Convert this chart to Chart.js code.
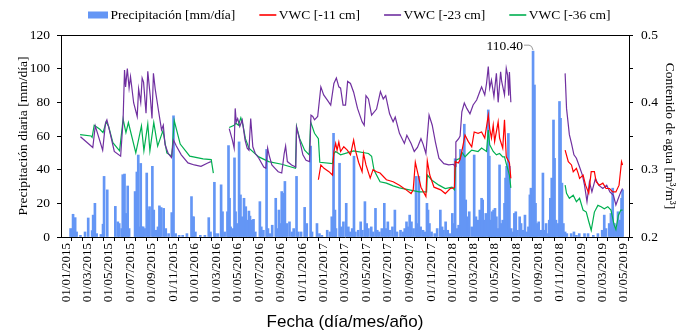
<!DOCTYPE html>
<html>
<head>
<meta charset="utf-8">
<script src="https://cdn.jsdelivr.net/npm/chart.js@4.4.1/dist/chart.umd.min.js"></script>
<style>
  html, body { margin: 0; padding: 0; background: #fff; }
  #caja { width: 686px; height: 335px; position: relative; }
</style>
</head>
<body>
<div id="caja"><canvas id="grafico"></canvas></div>
<script>
// etiquetas del eje X (cada 2 meses)
const etiquetasFecha = [
  '01/01/2015', '01/03/2015', '01/05/2015', '01/07/2015', '01/09/2015', '01/11/2015',
  '01/01/2016', '01/03/2016', '01/05/2016', '01/07/2016', '01/09/2016', '01/11/2016',
  '01/01/2017', '01/03/2017', '01/05/2017', '01/07/2017', '01/09/2017', '01/11/2017',
  '01/01/2018', '01/03/2018', '01/05/2018', '01/07/2018', '01/09/2018', '01/11/2018',
  '01/01/2019', '01/03/2019', '01/05/2019'
];

// precipitacion diaria: dias desde 01/01/2015 y mm/dia
const diasLluvia = [
  12, 16, 19, 25, 29, 40, 53, 62, 73, 76, 81, 86, 98, 104, 107, 116, 139, 146, 150, 157, 160, 165, 170, 174, 178,
  195, 200, 204, 208, 211, 215, 218, 222, 228, 233, 236, 244, 248, 255, 260, 264, 269, 276, 282, 290, 299, 304,
  310, 320, 330, 342, 355, 358, 361, 366, 380, 393, 404, 409,
  420, 423, 430, 439, 443, 449, 457, 460, 463, 466, 472, 477, 480, 485, 490, 494, 499, 504, 509, 513, 518, 521,
  526, 531, 536, 549, 553, 559, 568, 572, 578, 584, 594, 599, 603, 607, 611, 615, 620, 625, 633, 640, 645, 653,
  658, 666, 676, 682, 693, 697, 711, 718, 725,
  740, 748, 753, 758, 762, 765, 775, 780, 786, 794, 800, 805, 811, 816, 820, 828, 835, 840, 847, 852, 857, 865,
  870, 877, 882, 888, 895, 902, 906, 912, 917, 925, 932, 938, 948, 955, 960, 965, 970, 974, 979, 985, 992, 996,
  1000, 1005, 1012, 1017, 1023, 1026, 1030, 1036, 1045, 1052, 1061, 1066, 1070, 1076, 1082, 1088, 1095,
  1099, 1103, 1108, 1113, 1118, 1123, 1129, 1133, 1138, 1143, 1150, 1157, 1162, 1168, 1173, 1178, 1181, 1186,
  1190, 1197, 1200, 1204, 1208, 1212, 1216, 1220, 1225, 1229, 1233, 1238, 1243, 1246, 1249, 1254, 1257, 1262,
  1266, 1271, 1275, 1280, 1286, 1290, 1296, 1301, 1306, 1311, 1315, 1318, 1324, 1328, 1331, 1335, 1340, 1346,
  1352, 1356, 1361, 1366, 1370, 1373, 1377, 1382, 1385, 1389, 1395, 1399, 1402, 1406, 1410, 1415, 1420, 1432,
  1440, 1447, 1455,
  1470, 1480, 1495, 1508, 1520, 1526, 1531, 1540, 1545, 1550, 1555, 1560, 1565, 1570, 1575, 1578
];
const lluviaMm = [
  5, 4.8, 13.5, 11.5, 3, 1, 3, 11.3, 3.8, 13, 20, 2, 1.5, 7.6, 36, 28, 18.2, 9, 8, 5, 37, 37.4, 14, 30.3, 5,
  27, 38.6, 48.7, 6, 43.7, 6, 6, 5, 38, 16, 18, 42, 16, 4, 6, 18.5, 17.5, 17, 5, 2, 14.5, 72,
  2, 1, 1, 2, 24, 12, 12, 3, 1, 1, 11.5, 3,
  32.5, 2, 2, 31, 15, 3, 15, 54.3, 23, 6, 5, 47, 15, 8, 56.5, 25, 12, 23, 18, 10, 15.4, 12.4,
  10, 10.5, 3, 21, 6, 4, 52, 5, 2, 7, 23, 5, 16, 8, 27, 26, 33, 8, 9, 3, 5, 36,
  3, 3, 17.6, 8, 54, 3, 8, 2, 1,
  4, 3, 12, 61.6, 16, 5, 43.8, 6, 9, 20, 6, 3, 5, 48, 3, 4, 9, 4, 21, 8, 5, 6,
  3, 17, 4, 3, 5, 20, 5, 9, 4, 6, 16, 3, 4, 3, 5, 9, 6, 13, 9, 5, 36, 8,
  36, 6, 4, 3, 20, 16, 8, 3, 2, 5, 16, 6, 4, 9, 4, 2, 14,
  8, 46.5, 5, 7, 52, 50, 67, 22, 12, 15, 6, 48.7, 12, 10, 16, 23, 22, 10,
  14, 75.5, 48, 10, 15, 16, 17, 12, 5, 42.8, 8, 10, 20, 35, 42, 61.5, 42, 5,
  3, 14, 15, 4, 12, 8, 4, 13, 3, 6, 25, 29, 110.4, 90.3, 20, 8, 9, 4,
  38, 4, 8, 2, 10, 23, 35, 69.5, 46.7, 10, 8, 80.5, 70.5, 32, 8, 3, 2, 2,
  3, 1, 2,
  2, 2, 1, 2, 4, 13, 5, 8, 14, 29, 8, 5, 15, 10, 23, 28
];

// VWC -11 cm (null = corte de la serie)
const diasVwc11 = [
  715, 722, 731, 745, 755, 759, 764, 768, 773, 778, 787, 797, 806, 815, 820, 829, 839, 843, 850, 862, 870, 880,
  890, 908, 927, 945, 964, 978, 984, 990, 996, 1006, 1020, 1024, 1031, 1043, 1062, 1075, 1089, 1099, 1101, 1103,
  1112, 1117, 1122, 1131, 1140, 1150, 1157, 1168, 1178, 1187, 1197, 1201, 1206, 1211, 1215, 1225, 1229, 1238,
  1243, 1248, 1257, 1261, 1300,
  1415, 1424, 1433, 1438, 1447, 1452, 1456, 1466, 1473, 1482, 1489, 1498, 1503, 1512, 1522, 1531, 1541, 1550,
  1559, 1568, 1575, 1578
];
const vwc11 = [
  0.285, 0.307, 0.302, 0.297, 0.292, 0.327, 0.339, 0.329, 0.341, 0.327, 0.334, 0.329, 0.322, 0.344, 0.329, 0.311,
  0.297, 0.324, 0.307, 0.2875, 0.300, 0.297, 0.295, 0.285, 0.282, 0.277, 0.270, 0.2645, 0.270, 0.311, 0.297, 0.274,
  0.260, 0.313, 0.292, 0.274, 0.270, 0.2645, 0.272, 0.273, 0.274, 0.312, 0.310, 0.315, 0.327, 0.3515, 0.342,
  0.334, 0.356, 0.354, 0.356, 0.347, 0.381, 0.361, 0.347, 0.366, 0.342, 0.371, 0.347, 0.332, 0.374, 0.319, 0.310,
  0.287, null,
  0.329, 0.312, 0.307, 0.297, 0.302, 0.2945, 0.287, 0.292, 0.277, 0.265, 0.297, 0.297, 0.282, 0.277, 0.280,
  0.272, 0.272, 0.267, 0.267, 0.277, 0.312, 0.307
];

// VWC -23 cm
const diasVwc23 = [
  40, 75, 82, 103, 111, 115, 122, 136, 154, 161, 165, 168, 173, 178, 182, 191, 201, 205, 211, 215, 219, 226, 231,
  238, 243, 247, 252, 261, 270, 275, 280, 289, 298, 304, 312, 326, 345, 363, 382, 401, 410, 430,
  462, 471, 476, 479, 482, 486, 492, 499, 507, 513, 518, 523, 529, 536, 546, 560, 566, 571, 575, 583, 592, 601,
  611, 618, 622, 627, 639, 651, 653, 662, 671, 680, 690, 694, 699, 704, 713, 722, 730, 741, 750, 759, 766, 773,
  778, 785, 792, 798, 806, 815, 826, 839, 845, 850, 857, 866, 880, 891, 899, 906, 917, 927, 933, 945, 959, 966,
  978, 987, 996, 1006, 1012, 1020, 1029, 1038, 1047, 1057, 1071, 1085, 1098, 1103, 1105, 1113, 1117, 1122, 1129,
  1136, 1145, 1154, 1164, 1173, 1178, 1187, 1192, 1197, 1201, 1206, 1213, 1220, 1225, 1232, 1235, 1243, 1248,
  1252, 1255, 1257, 1261, 1300,
  1415, 1419, 1427, 1433, 1440, 1447, 1454, 1464, 1470, 1477, 1484, 1491, 1501, 1510, 1522, 1533, 1542, 1552,
  1559, 1566, 1573, 1578
];
const vwc23 = [
  0.349, 0.333, 0.365, 0.329, 0.369, 0.374, 0.359, 0.327, 0.320, 0.374, 0.448, 0.423, 0.450, 0.421, 0.438, 0.399,
  0.379, 0.420, 0.400, 0.436, 0.430, 0.384, 0.446, 0.409, 0.376, 0.443, 0.420, 0.389, 0.359, 0.366, 0.337, 0.324,
  0.318, 0.344, 0.335, 0.322, 0.310, 0.307, 0.305, 0.310, 0.312, null,
  0.361, 0.344, 0.332, 0.391, 0.371, 0.376, 0.364, 0.374, 0.344, 0.332, 0.329, 0.376, 0.334, 0.324, 0.317, 0.304,
  0.302, 0.332, 0.322, 0.307, 0.302, 0.297, 0.295, 0.324, 0.335, 0.312, 0.307, 0.304, 0.363, 0.344, 0.322, 0.314,
  0.312, 0.381, 0.379, 0.374, 0.379, 0.423, 0.411, 0.403, 0.396, 0.428, 0.436, 0.423, 0.421, 0.396, 0.396, 0.431,
  0.428, 0.415, 0.391, 0.371, 0.366, 0.410, 0.405, 0.381, 0.390, 0.416, 0.405, 0.410, 0.383, 0.371, 0.378, 0.354,
  0.339, 0.351, 0.339, 0.327, 0.333, 0.346, 0.338, 0.324, 0.381, 0.366, 0.341, 0.317, 0.309, 0.307, 0.308, 0.305,
  0.341, 0.346, 0.350, 0.386, 0.399, 0.391, 0.383, 0.396, 0.4035, 0.416, 0.423, 0.411, 0.428, 0.453, 0.421,
  0.433, 0.4085, 0.443, 0.400, 0.4455, 0.431, 0.411, 0.4505, 0.440, 0.410, 0.445, 0.400, null,
  0.443, 0.391, 0.352, 0.339, 0.322, 0.317, 0.307, 0.292, 0.277, 0.2525, 0.282, 0.267, 0.287, 0.277, 0.272,
  0.277, 0.267, 0.262, 0.2475, 0.2575, 0.267, 0.272
];

// VWC -36 cm
const diasVwc36 = [
  39, 70, 73, 79, 95, 104, 113, 120, 132, 151, 161, 169, 176, 197, 213, 220, 231, 237, 248, 259, 274, 285, 299,
  306, 323, 350, 388, 411, 417, 430,
  462, 476, 481, 488, 495, 501, 508, 518, 546, 574, 611, 650, 653, 662, 676, 689, 693, 704, 715, 719, 755, 759,
  764, 778, 815, 857, 866, 873, 890, 908, 927, 945, 973, 1001, 1022, 1024, 1038, 1057, 1075, 1094, 1101, 1105,
  1117, 1122, 1131, 1140, 1150, 1168, 1178, 1192, 1197, 1201, 1211, 1220, 1229, 1238, 1243, 1248, 1257, 1261, 1300,
  1415, 1419, 1427, 1438, 1447, 1456, 1466, 1475, 1482, 1489, 1498, 1508, 1517, 1526, 1536, 1545, 1554, 1559,
  1566, 1573, 1578
];
const vwc36 = [
  0.352, 0.350, 0.348, 0.366, 0.360, 0.355, 0.371, 0.364, 0.340, 0.328, 0.375, 0.355, 0.370, 0.325, 0.365, 0.328,
  0.368, 0.328, 0.370, 0.335, 0.358, 0.325, 0.320, 0.373, 0.338, 0.320, 0.316, 0.315, 0.295, null,
  0.3625, 0.366, 0.369, 0.366, 0.377, 0.366, 0.346, 0.332, 0.319, 0.312, 0.308, 0.302, 0.364, 0.346, 0.329, 0.322,
  0.371, 0.354, 0.346, 0.311, 0.309, 0.324, 0.327, 0.322, 0.328, 0.324, 0.320, 0.299, 0.282, 0.280, 0.276, 0.273,
  0.270, 0.267, 0.267, 0.292, 0.284, 0.277, 0.272, 0.274, 0.270, 0.314, 0.317, 0.326, 0.319, 0.324, 0.329, 0.327,
  0.332, 0.327, 0.359, 0.337, 0.327, 0.322, 0.324, 0.319, 0.319, 0.309, 0.292, 0.273, null,
  0.277, 0.265, 0.2575, 0.262, 0.2525, 0.2575, 0.240, 0.237, 0.223, 0.210, 0.237, 0.247, 0.245, 0.242, 0.245,
  0.240, 0.218, 0.211, 0.232, 0.240, 0.240
];

const colorLluvia = 'rgb(100, 150, 245)';
const colorVwc11 = '#ff0000';
const colorVwc23 = '#7030a0';
const colorVwc36 = '#00b050';

// dias desde 01/01/2015 para una fecha dd/mm/aaaa
function diaDe(txt) {
  const [d, m, a] = txt.split('/').map(Number);
  return (Date.UTC(a, m - 1, d) - Date.UTC(2015, 0, 1)) / 86400000;
}
const diaFinal = diaDe(etiquetasFecha[etiquetasFecha.length - 1]);

// marcas mensuales (las de cada 2 meses llevan texto)
const marcasX = [];
const textoMarca = {};
for (let a = 2015; a <= 2019; a++) {
  for (let m = 1; m <= 12; m++) {
    const t = '01/' + String(m).padStart(2, '0') + '/' + a;
    const d = diaDe(t);
    if (d > diaFinal) break;
    marcasX.push(d);
    textoMarca[d] = etiquetasFecha.includes(t) ? t : '';
  }
}

function puntos(dias, valores) {
  return dias.map((d, i) => ({ x: d, y: valores[i] }));
}

const serif = 'Liberation Serif';
Chart.defaults.color = '#000';

// leyenda dibujada a mano para copiar el espaciado original
const leyenda = {
  id: 'leyenda',
  afterDraw(chart) {
    const ctx = chart.ctx;
    ctx.save();
    ctx.font = '13.5px "' + serif + '"';
    ctx.textBaseline = 'middle';
    let x = 88;
    const y = 15;
    chart.data.datasets.forEach(ds => {
      let w;
      if (ds.type === 'line') {
        w = 17;
        ctx.strokeStyle = ds.borderColor;
        ctx.lineWidth = 1.6;
        ctx.beginPath();
        ctx.moveTo(x, y);
        ctx.lineTo(x + w, y);
        ctx.stroke();
      } else {
        w = 20;
        ctx.fillStyle = ds.backgroundColor;
        ctx.fillRect(x, y - 3.5, w, 7);
      }
      ctx.fillStyle = '#000';
      ctx.fillText(ds.label, x + w + 2.5, y);
      x += w + 2.5 + ctx.measureText(ds.label).width + 24;
    });
    ctx.restore();
  }
};

// borde superior y rótulo del máximo
const extras = {
  id: 'extras',
  afterDatasetsDraw(chart) {
    const ctx = chart.ctx;
    const a = chart.chartArea;
    ctx.save();
    ctx.strokeStyle = '#000';
    ctx.lineWidth = 1;
    ctx.beginPath();
    ctx.moveTo(a.left, a.top + 0.5);
    ctx.lineTo(a.right, a.top + 0.5);
    ctx.stroke();

    let iMax = 0;
    lluviaMm.forEach((v, i) => { if (v > lluviaMm[iMax]) iMax = i; });
    const px = chart.scales.x.getPixelForValue(diasLluvia[iMax]);
    const py = chart.scales.y.getPixelForValue(lluviaMm[iMax]);
    ctx.font = '13.5px "' + serif + '"';
    ctx.fillStyle = '#000';
    ctx.textAlign = 'right';
    ctx.textBaseline = 'middle';
    ctx.fillText(lluviaMm[iMax].toFixed(2), px - 10, py - 5);
    ctx.strokeStyle = '#999';
    ctx.beginPath();
    ctx.moveTo(px - 9, py - 6);
    ctx.lineTo(px - 4, py - 6);
    ctx.quadraticCurveTo(px - 1, py - 6, px, py - 1);
    ctx.stroke();
    ctx.restore();
  }
};

new Chart(document.getElementById('grafico'), {
  type: 'bar',
  data: {
    datasets: [
      {
        label: 'Precipitación [mm/día]',
        data: puntos(diasLluvia, lluviaMm),
        backgroundColor: colorLluvia,
        barThickness: 2,
        yAxisID: 'y',
        order: 1
      },
      {
        type: 'line',
        label: 'VWC [-11 cm]',
        data: puntos(diasVwc11, vwc11),
        borderColor: colorVwc11,
        borderWidth: 1.2,
        pointRadius: 0,
        spanGaps: false,
        yAxisID: 'y2',
        order: 0
      },
      {
        type: 'line',
        label: 'VWC [-23 cm]',
        data: puntos(diasVwc23, vwc23),
        borderColor: colorVwc23,
        borderWidth: 1.2,
        pointRadius: 0,
        spanGaps: false,
        yAxisID: 'y2',
        order: 0
      },
      {
        type: 'line',
        label: 'VWC [-36 cm]',
        data: puntos(diasVwc36, vwc36),
        borderColor: colorVwc36,
        borderWidth: 1.2,
        pointRadius: 0,
        spanGaps: false,
        yAxisID: 'y2',
        order: 0
      }
    ]
  },
  options: {
    responsive: true,
    maintainAspectRatio: false,
    animation: false,
    layout: { padding: { top: 35, left: 0, right: 0, bottom: 0 } },
    plugins: {
      legend: { display: false },
      tooltip: { enabled: false }
    },
    scales: {
      x: {
        type: 'linear',
        min: 0,
        max: diaFinal,
        afterBuildTicks: s => { s.ticks = marcasX.map(v => ({ value: v })); },
        afterFit: s => { s.height = 98; },
        ticks: {
          autoSkip: false,
          minRotation: 90,
          maxRotation: 90,
          padding: 2,
          font: { family: serif, size: 13 },
          callback: v => textoMarca[v] || ''
        },
        grid: { drawOnChartArea: false, tickLength: 4, color: '#000' },
        border: { color: '#000' },
        title: {
          display: true,
          text: 'Fecha (día/mes/año)',
          font: { family: 'Liberation Sans', size: 17 },
          padding: { top: 0, bottom: 2 }
        }
      },
      y: {
        position: 'left',
        min: 0,
        max: 120,
        afterFit: s => { s.width = 61; },
        ticks: {
          stepSize: 10,
          padding: 7,
          font: { family: serif, size: 13.5 },
          callback: v => (v % 20 === 0 ? v : '')
        },
        grid: { drawOnChartArea: false, tickLength: 4, color: '#000' },
        border: { color: '#000' },
        title: {
          display: true,
          text: 'Precipitación diaria [mm/día]',
          font: { family: serif, size: 13.5 },
          padding: { top: 15, bottom: 0 }
        }
      },
      y2: {
        position: 'right',
        min: 0.2,
        max: 0.5,
        afterFit: s => { s.width = 57; },
        ticks: {
          stepSize: 0.05,
          padding: 8,
          font: { family: serif, size: 13.5 },
          callback: v => (Math.round(v * 100) % 10 === 0 ? v.toFixed(1) : '')
        },
        grid: { drawOnChartArea: false, tickLength: 4, color: '#000' },
        border: { color: '#000' },
        title: {
          display: true,
          text: 'Contenido de agua [m³/m³]',
          font: { family: serif, size: 13.5 },
          padding: { top: 8, bottom: 0 }
        }
      }
    }
  },
  plugins: [leyenda, extras]
});
</script>
</body>
</html>
